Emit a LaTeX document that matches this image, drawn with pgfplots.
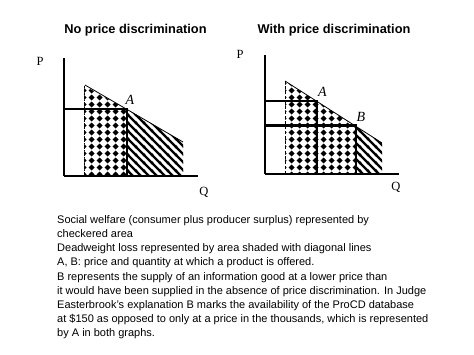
\documentclass[border=0pt]{standalone}
\usepackage{fontspec}
\setmainfont{Liberation Sans}
\newfontfamily\serifA{Liberation Serif}
\usepackage{pgfplots}
\pgfplotsset{compat=1.18}
\usetikzlibrary{patterns}

\pgfdeclarepatternformonly{diam}{\pgfpoint{0bp}{0bp}}{\pgfpoint{8bp}{7.4bp}}{\pgfpoint{8bp}{7.4bp}}{%
  \pgfpathmoveto{\pgfpoint{4bp}{0.5bp}}%
  \pgfpathlineto{\pgfpoint{7.3bp}{3.7bp}}%
  \pgfpathlineto{\pgfpoint{4bp}{6.9bp}}%
  \pgfpathlineto{\pgfpoint{0.7bp}{3.7bp}}%
  \pgfpathclose\pgfusepath{fill}}

\pgfdeclarepatternformonly{hatch}{\pgfpoint{-1bp}{-1bp}}{\pgfpoint{9bp}{9bp}}{\pgfpoint{8bp}{8bp}}{%
  \pgfsetlinewidth{2.4bp}%
  \pgfpathmoveto{\pgfpoint{-1bp}{9bp}}\pgfpathlineto{\pgfpoint{9bp}{-1bp}}%
  \pgfpathmoveto{\pgfpoint{-1bp}{1bp}}\pgfpathlineto{\pgfpoint{1bp}{-1bp}}%
  \pgfpathmoveto{\pgfpoint{7bp}{9bp}}\pgfpathlineto{\pgfpoint{9bp}{7bp}}%
  \pgfusepath{stroke}}

\pgfplotsset{panel/.style={scale only axis, axis lines*=left, xtick=\empty, ytick=\empty,
  clip=false, axis line style={line width=1.4bp}, anchor=south west}}

\begin{document}
\begin{tikzpicture}
\useasboundingbox (0,0) rectangle (474bp,355bp);

% Left panel
\begin{axis}[panel, at={(64bp,179bp)}, width=134bp, height=118bp,
  xmin=64, xmax=198, ymin=179, ymax=297]
\addplot[draw=none, pattern=diam] coordinates {(84,179) (84,269.4) (127,245.6) (127,179)} -- cycle;
\addplot[draw=none, pattern=hatch] coordinates {(127,179) (127,245.6) (183,213) (183,179)} -- cycle;
\addplot[black, line width=0.8bp] coordinates {(85,270) (183,213)};
\addplot[black, densely dotted, line width=0.8bp] coordinates {(84,179) (84,269)};
\addplot[black, line width=2.2bp] coordinates {(64,246) (127,246) (127,179)};
\node[font=\serifA\itshape\fontsize{14bp}{14bp}\selectfont] at (axis cs:130,255.5) {A};
\node[font=\serifA\fontsize{12.5bp}{12.5bp}\selectfont] at (axis cs:40,294) {P};
\node[font=\serifA\fontsize{12.5bp}{12.5bp}\selectfont] at (axis cs:204,163) {Q};
\end{axis}

% Right panel
\begin{axis}[panel, at={(265bp,181bp)}, width=134bp, height=119bp,
  xmin=265, xmax=399, ymin=181, ymax=300]
\addplot[draw=none, pattern=diam] coordinates {(285,181) (285,274) (356,228.6) (356,181)} -- cycle;
\addplot[draw=none, pattern=hatch] coordinates {(356,181) (356,228.6) (382,212) (382,181)} -- cycle;
\addplot[black, line width=0.8bp] coordinates {(285,274) (382,212)};
\addplot[black, densely dashed, line width=0.8bp] coordinates {(285,181) (285,274)};
\addplot[black, line width=2.2bp] coordinates {(265,254) (317,254) (317,181)};
\addplot[black, line width=2.2bp] coordinates {(265,229.5) (356,229.5) (356,181)};
\node[font=\serifA\itshape\fontsize{14bp}{14bp}\selectfont] at (axis cs:322.5,263) {A};
\node[font=\serifA\itshape\fontsize{14bp}{14bp}\selectfont] at (axis cs:361,238) {B};
\node[font=\serifA\fontsize{12.5bp}{12.5bp}\selectfont] at (axis cs:240,301) {P};
\node[font=\serifA\fontsize{12.5bp}{12.5bp}\selectfont] at (axis cs:396,168) {Q};
\end{axis}

\node[font=\bfseries\fontsize{12.8bp}{12.8bp}\selectfont] at (135.5bp,325bp) {No price discrimination};
\node[font=\bfseries\fontsize{12.8bp}{12.8bp}\selectfont] at (334bp,325bp) {With price discrimination};

\node[anchor=north west, align=left, inner sep=0pt, font=\fontsize{11bp}{14.1bp}\selectfont] at (57bp,139.5bp) {%
Social welfare (consumer plus producer surplus) represented by\\
checkered area\\
Deadweight loss represented by area shaded with diagonal lines\\
A, B: price and quantity at which a product is offered.\\
B represents the supply of an information good at a lower price than\\
it would have been supplied in the absence of price discrimination. In Judge\\
Easterbrook's explanation B marks the availability of the ProCD database\\
at \$150 as opposed to only at a price in the thousands, which is represented\\
by A in both graphs.};
\end{tikzpicture}
\end{document}
